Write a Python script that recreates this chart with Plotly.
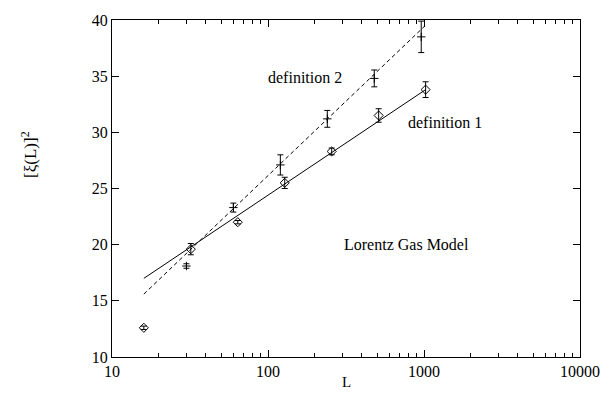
import math
import plotly.graph_objects as go

# definition 1: correlation length squared vs system size
L1 = [16, 32, 64, 128, 256, 512, 1024]
xi1 = [12.6, 19.6, 22.0, 25.5, 28.3, 31.5, 33.8]
err1 = [0.15, 0.5, 0.15, 0.5, 0.3, 0.6, 0.7]

# definition 2
L2 = [30, 60, 120, 240, 480, 960]
xi2 = [18.1, 23.3, 27.1, 31.2, 34.8, 38.5]
err2 = [0.2, 0.4, 0.9, 0.75, 0.75, 1.4]

# straight-line fits (linear in log L), given by their end points
fit1_L = [16, 1024]
fit1_y = [17.0, 33.8]
fit2_L = [16, 1000]
fit2_y = [15.6, 39.4]

x_ticks = [10, 100, 1000, 10000]
y_ticks = [10, 15, 20, 25, 30, 35, 40]

FONT = "Liberation Serif"

fig = go.Figure()

fig.add_trace(go.Scatter(x=fit1_L, y=fit1_y, mode="lines",
                         line=dict(color="black", width=1), showlegend=False))
fig.add_trace(go.Scatter(x=fit2_L, y=fit2_y, mode="lines",
                         line=dict(color="black", width=1, dash="4px,3px"), showlegend=False))

fig.add_trace(go.Scatter(
    x=L1, y=xi1, mode="markers",
    marker=dict(symbol="diamond-open", size=7, color="black", line=dict(width=1)),
    error_y=dict(type="data", array=err1, color="black", thickness=1, width=3),
    showlegend=False))

fig.add_trace(go.Scatter(
    x=L2, y=xi2, mode="markers",
    marker=dict(symbol="cross-thin-open", size=6, color="black", line=dict(width=1, color="black")),
    error_y=dict(type="data", array=err2, color="black", thickness=1, width=3),
    showlegend=False))

axis_common = dict(
    showgrid=False, zeroline=False, showline=True, linecolor="black", linewidth=1,
    mirror="allticks", ticks="inside", tickcolor="black",
    tickfont=dict(family=FONT, size=16, color="black"),
)

fig.update_xaxes(
    type="log", range=[1, 4], tickvals=x_ticks, ticktext=[str(v) for v in x_ticks],
    ticklen=7,
    minor=dict(ticks="inside", ticklen=4, tickcolor="black", showgrid=False,
               tickvals=[m * 10 ** d for d in range(1, 4) for m in range(2, 10)]),
    **axis_common)
fig.update_yaxes(range=[10, 40], tickvals=y_ticks, ticklen=7, **axis_common)

fig.add_annotation(x=0.5, y=-0.073, xref="paper", yref="paper", text="L",
                   showarrow=False, font=dict(family=FONT, size=15, color="black"),
                   xanchor="center", yanchor="middle")
fig.add_annotation(x=-0.177, y=0.6, xref="paper", yref="paper",
                   text="[ξ(L)]<sup>2</sup>", textangle=-90, showarrow=False,
                   xanchor="center", yanchor="middle",
                   font=dict(family=FONT, size=17, color="black"))

label_font = dict(family=FONT, size=16, color="black")
fig.add_annotation(x=math.log10(172), y=34.9, text="definition 2", showarrow=False, font=label_font)
fig.add_annotation(x=math.log10(1365), y=30.9, text="definition 1", showarrow=False, font=label_font)
fig.add_annotation(x=math.log10(767), y=20.0, text="Lorentz Gas Model", showarrow=False, font=label_font)

fig.update_layout(
    width=615, height=393,
    margin=dict(l=112, r=35, t=14, b=36),
    paper_bgcolor="white", plot_bgcolor="white",
)

fig.write_html("out.html")
